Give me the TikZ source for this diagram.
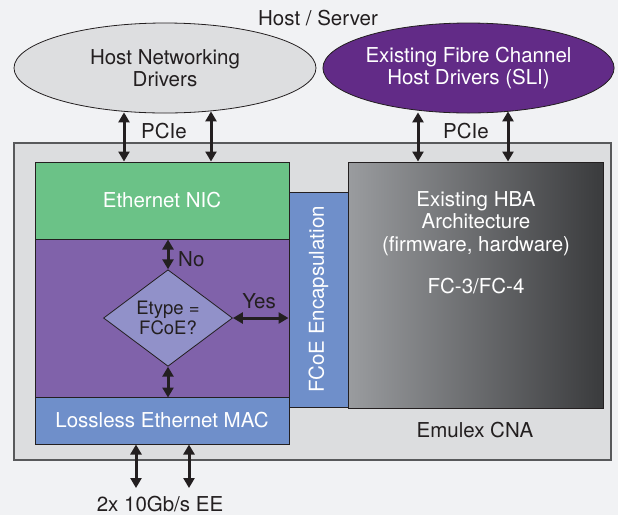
\documentclass[tikz,border=0pt]{standalone}
\usepackage{fontspec}
\setmainfont{TeX Gyre Heros}
\usetikzlibrary{shapes.geometric,arrows.meta,calc}

\definecolor{pagebg}{HTML}{F1F2F4}
\definecolor{cnafill}{HTML}{DCDDDF}
\definecolor{cnaedge}{HTML}{58595B}
\definecolor{ink}{HTML}{231F20}
\definecolor{nicgreen}{HTML}{6BC287}
\definecolor{flowpurple}{HTML}{8062AA}
\definecolor{macblue}{HTML}{6F8FCA}
\definecolor{decision}{HTML}{9191C9}
\definecolor{fcpurple}{HTML}{622B87}
\definecolor{hostgray}{HTML}{DDDEE0}
\definecolor{hbalight}{HTML}{9A9C9F}
\definecolor{hbadark}{HTML}{3A3B3D}

\tikzset{
  basefont/.style={font=\fontsize{20.5}{22.5}\selectfont},
  smallfont/.style={font=\fontsize{18.5}{19.5}\selectfont},
  block/.style={draw=ink, line width=1pt, rectangle, inner sep=0pt, text=white, align=center, basefont},
  oval/.style={draw=ink, line width=0.8pt, ellipse, inner sep=0pt, minimum width=#1, minimum height=90pt, align=center, basefont},
  label/.style={text=ink, inner sep=0pt, basefont},
  link/.style={line width=3pt, draw=ink, {Triangle[length=10pt,width=11pt]}-{Triangle[length=10pt,width=11pt]}},
}

\begin{document}
\begin{tikzpicture}[x=1pt,y=-1pt]
  % page
  \fill[pagebg] (0,0) rectangle (618,515);
  \useasboundingbox (0,0) rectangle (618,515);

  % host side
  \node[label] (host) at (318,18) {Host / Server};
  \node[oval=302pt, fill=hostgray, text=ink] (hostnet) at (165,68) {Host Networking\\Drivers};
  \node[oval=287pt, fill=fcpurple, text=white] (fcdrv) at (468.5,68) {Existing Fibre Channel\\Host Drivers (SLI)};

  % adapter card
  \node[draw=cnaedge, line width=1.3pt, fill=cnafill, rectangle, inner sep=0pt,
        minimum width=597pt, minimum height=317pt] (cna) at (312.5,301.5) {};
  \node[label] (cnaname) at (475,430) {Emulex CNA};

  \node[block, fill=nicgreen, minimum width=254pt, minimum height=77pt] (nic) at (162,200.5) {Ethernet NIC};
  \node[block, fill=flowpurple, minimum width=254pt, minimum height=158pt] (flow) at (162,318) {};
  \node[block, fill=macblue, minimum width=254pt, minimum height=47pt] (mac) at (162,420.5) {Lossless Ethernet MAC};
  \node[block, fill=macblue, minimum width=59pt, minimum height=215pt] (fcoe) at (318.5,299.5) {};
  \node[text=white, basefont, rotate=90, inner sep=0pt] (fcoetext) at (fcoe.center) {FCoE Encapsulation};
  \node[block, left color=hbalight, right color=hbadark, minimum width=255pt, minimum height=246pt] (hba) at (475.5,285) {};
  \node[text=white, basefont, align=center, inner sep=0pt, anchor=north] (hbatext) at (476,191)
    {Existing HBA\\Architecture\\(firmware, hardware)\\[20pt]FC-3/FC-4};

  % decision
  \node[diamond, draw=ink, line width=0.8pt, fill=decision, inner sep=0pt, minimum width=129pt, minimum height=86pt,
        text=ink, align=center, smallfont] (etype) at (168,318) {Etype =\\FCoE?};
  \draw[link] (nic.south -| etype.north) -- (etype.north);
  \draw[link] (etype.south) -- (flow.south -| etype.south);
  \draw[link] (etype.east) -- (fcoe.west |- etype.east);
  \node[label, anchor=west] (nolab) at (178,259) {No};
  \node[label] (yeslab) at (259,301) {Yes};

  % PCIe links
  \coordinate (pa) at (124,0);
  \coordinate (pb) at (211,0);
  \coordinate (pc) at (418,0);
  \coordinate (pd) at (508,0);
  \draw[link] ($(hostnet.south -| pa)+(0,-1)$) -- (nic.north -| pa);
  \draw[link] ($(hostnet.south -| pb)+(0,-2)$) -- (nic.north -| pb);
  \draw[link] ($(fcdrv.south -| pc)+(0,-1)$) -- (hba.north -| pc);
  \draw[link] ($(fcdrv.south -| pd)+(0,-2)$) -- (hba.north -| pd);
  \node[label] (pcieL) at (164,131) {PCIe};
  \node[label] (pcieR) at (466,131) {PCIe};

  % network ports
  \coordinate (portA) at (136,488);
  \coordinate (portB) at (189,488);
  \draw[link] (mac.south -| portA) -- (portA);
  \draw[link] (mac.south -| portB) -- (portB);
  \node[label] (ports) at (160,504) {2x 10Gb/s EE};
\end{tikzpicture}
\end{document}
